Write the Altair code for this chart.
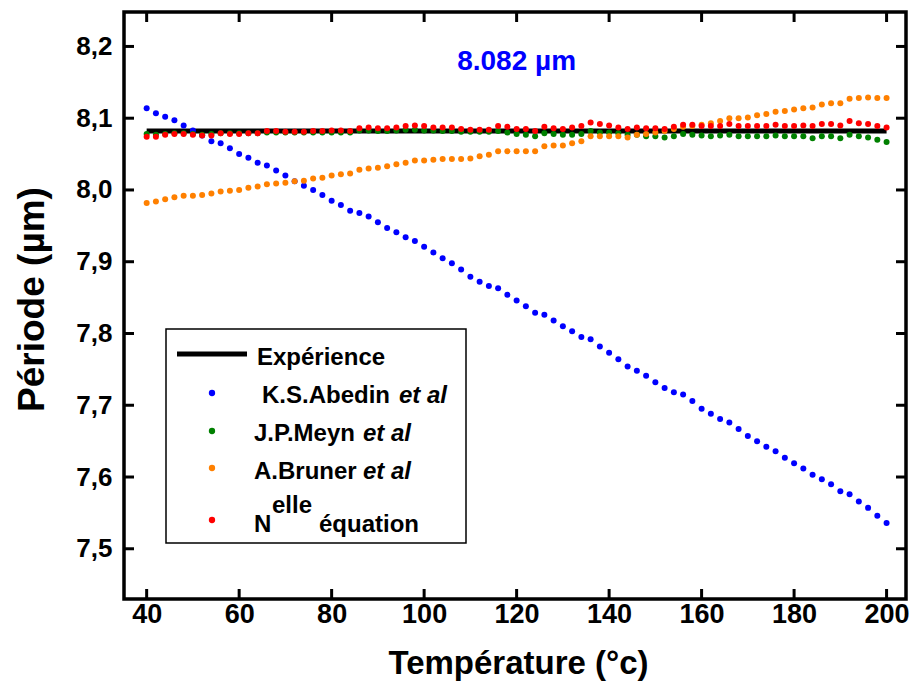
import altair as alt
import pandas as pd

# ---------------- data ----------------
TEMPS = list(range(40, 201, 2))  # 81 temperatures

ABEDIN = [8.114, 8.107, 8.102, 8.097, 8.090, 8.083, 8.076, 8.068, 8.065, 8.058,
          8.050, 8.045, 8.038, 8.034, 8.027, 8.020, 8.012, 8.006, 8.000, 7.993,
          7.985, 7.979, 7.971, 7.968, 7.963, 7.955, 7.947, 7.941, 7.934, 7.929,
          7.921, 7.913, 7.905, 7.898, 7.889, 7.879, 7.872, 7.866, 7.863, 7.854,
          7.846, 7.838, 7.829, 7.826, 7.818, 7.810, 7.803, 7.795, 7.792, 7.782,
          7.773, 7.764, 7.754, 7.748, 7.741, 7.732, 7.724, 7.718, 7.715, 7.706,
          7.695, 7.688, 7.681, 7.676, 7.667, 7.657, 7.650, 7.642, 7.636, 7.627,
          7.619, 7.612, 7.603, 7.597, 7.590, 7.580, 7.576, 7.566, 7.557, 7.546,
          7.536]

MEYN = [8.078, 8.077, 8.078, 8.079, 8.079, 8.078, 8.077, 8.078, 8.079, 8.079,
        8.079, 8.079, 8.079, 8.080, 8.080, 8.080, 8.080, 8.080, 8.080, 8.080,
        8.080, 8.080, 8.080, 8.083, 8.083, 8.082, 8.082, 8.083, 8.084, 8.084,
        8.083, 8.083, 8.082, 8.082, 8.081, 8.081, 8.081, 8.081, 8.082, 8.080,
        8.078, 8.077, 8.075, 8.079, 8.078, 8.077, 8.077, 8.078, 8.082, 8.080,
        8.080, 8.079, 8.077, 8.077, 8.075, 8.075, 8.073, 8.075, 8.078, 8.077,
        8.076, 8.075, 8.076, 8.077, 8.075, 8.075, 8.075, 8.075, 8.076, 8.075,
        8.075, 8.075, 8.072, 8.075, 8.075, 8.072, 8.077, 8.075, 8.073, 8.070,
        8.067]

BRUNER = [7.982, 7.984, 7.987, 7.990, 7.992, 7.992, 7.993, 7.995, 7.998, 7.999,
          8.000, 8.003, 8.005, 8.008, 8.009, 8.010, 8.012, 8.013, 8.016, 8.017,
          8.020, 8.022, 8.023, 8.028, 8.030, 8.031, 8.033, 8.036, 8.038, 8.041,
          8.041, 8.042, 8.043, 8.043, 8.043, 8.044, 8.047, 8.049, 8.054, 8.054,
          8.054, 8.054, 8.054, 8.061, 8.062, 8.062, 8.065, 8.068, 8.075, 8.075,
          8.075, 8.075, 8.073, 8.077, 8.078, 8.080, 8.082, 8.085, 8.088, 8.089,
          8.091, 8.093, 8.096, 8.100, 8.100, 8.101, 8.104, 8.106, 8.109, 8.110,
          8.112, 8.114, 8.115, 8.119, 8.121, 8.121, 8.127, 8.128, 8.129, 8.128,
          8.128]

NELLE = [8.074, 8.074, 8.077, 8.078, 8.078, 8.077, 8.076, 8.076, 8.079, 8.078,
         8.078, 8.079, 8.079, 8.082, 8.082, 8.081, 8.081, 8.081, 8.082, 8.082,
         8.083, 8.083, 8.082, 8.086, 8.087, 8.086, 8.086, 8.087, 8.089, 8.090,
         8.089, 8.087, 8.087, 8.087, 8.085, 8.084, 8.084, 8.084, 8.089, 8.088,
         8.085, 8.085, 8.082, 8.088, 8.086, 8.085, 8.087, 8.089, 8.094, 8.092,
         8.090, 8.087, 8.085, 8.087, 8.086, 8.086, 8.085, 8.088, 8.091, 8.091,
         8.089, 8.089, 8.089, 8.092, 8.089, 8.089, 8.089, 8.089, 8.091, 8.089,
         8.089, 8.090, 8.089, 8.092, 8.092, 8.090, 8.096, 8.093, 8.092, 8.089,
         8.087]

EXP_T = [40, 200]
EXP_V = [8.082, 8.082]

SERIES = ["K.S.Abedin", "J.P.Meyn", "A.Bruner", "Nelle équation"]
COLORS = ["#0000FF", "#008000", "#FF8000", "#FF0000"]

X_TICKS = [40, 60, 80, 100, 120, 140, 160, 180, 200]
Y_TICKS = [7.5, 7.6, 7.7, 7.8, 7.9, 8.0, 8.1, 8.2]

ANNOT_T = [120]
ANNOT_V = [8.1675]
ANNOT_TXT = ["8.082 µm"]

# ---------------- layout / style ----------------
FONT = "Liberation Sans"
W, H = 782, 587
PAD_L = 116
OX = 3  # legend offset so it stays at the reference page position
XS = alt.Scale(domain=[35.1, 204.2], nice=False, zero=False)
YS = alt.Scale(domain=[7.43, 8.248], nice=False, zero=False)

AX_X = alt.Axis(
    values=X_TICKS, title="Température (°c)", labelFontSize=27, labelPadding=2,
    titleFontSize=33, titleX=394, titleY=74, titleAlign="center",
    titleBaseline="alphabetic", grid=False, domain=False, ticks=False, tickSize=0,
    labelFont=FONT, labelFontWeight="bold", labelColor="black",
    titleFont=FONT, titleFontWeight="bold", titleColor="black")
AX_Y = alt.Axis(
    values=Y_TICKS, title="Période (µm)",
    labelExpr="replace(format(datum.value, '.1f'), '.', ',')",
    labelFontSize=26, labelPadding=12,
    titleFontSize=37, titleAngle=270, titleX=-81, titleY=287,
    titleAlign="center", titleBaseline="alphabetic",
    grid=False, domain=False, ticks=False, tickSize=0,
    labelFont=FONT, labelFontWeight="bold", labelColor="black",
    titleFont=FONT, titleFontWeight="bold", titleColor="black")


def X():
    return alt.X("T:Q", scale=XS, axis=AX_X)


def Y():
    return alt.Y("V:Q", scale=YS, axis=AX_Y)


rows = []
for name, vals in zip(SERIES, [ABEDIN, MEYN, BRUNER, NELLE]):
    for t, v in zip(TEMPS, vals):
        rows.append({"T": t, "V": v, "S": name})
df = pd.DataFrame(rows)

exp_df = pd.DataFrame({"T": EXP_T, "V": EXP_V})
xt_df = pd.DataFrame({"T": X_TICKS})
yt_df = pd.DataFrame({"V": Y_TICKS})
dummy = pd.DataFrame({"a": [0]})

exp_line = alt.Chart(exp_df).mark_line(color="black", strokeWidth=5).encode(x=X(), y=Y())

points = alt.Chart(df).mark_circle(size=36, opacity=1).encode(
    x=X(), y=Y(),
    color=alt.Color("S:N", scale=alt.Scale(domain=SERIES, range=COLORS), legend=None),
)

annot = alt.Chart(pd.DataFrame({"T": ANNOT_T, "V": ANNOT_V, "txt": ANNOT_TXT})).mark_text(
    font=FONT, fontSize=28, fontWeight="bold", color="#0000FF",
    align="center", baseline="alphabetic").encode(x=X(), y=Y(), text="txt:N")

TICK_LEN = 10
tick_style = dict(color="black", strokeWidth=3)
bottom_ticks = alt.Chart(xt_df).mark_rule(**tick_style).encode(
    x=X(), y=alt.value(H), y2=alt.value(H - TICK_LEN))
top_ticks = alt.Chart(xt_df).mark_rule(**tick_style).encode(
    x=X(), y=alt.value(0), y2=alt.value(TICK_LEN))
left_ticks = alt.Chart(yt_df).mark_rule(**tick_style).encode(
    y=Y(), x=alt.value(0), x2=alt.value(TICK_LEN))
right_ticks = alt.Chart(yt_df).mark_rule(**tick_style).encode(
    y=Y(), x=alt.value(W), x2=alt.value(W - TICK_LEN))

# ---------------- manual legend ----------------
LX0, LX1, LY0, LY1 = 39 + OX, 339 + OX, 317, 531
legend_box = alt.Chart(dummy).mark_rect(fill="white", stroke="black", strokeWidth=1.5).encode(
    x=alt.value(LX0), x2=alt.value(LX1), y=alt.value(LY0), y2=alt.value(LY1))
legend_line = alt.Chart(dummy).mark_rule(color="black", strokeWidth=5).encode(
    x=alt.value(50 + OX), x2=alt.value(120 + OX), y=alt.value(342))

DOT_X = 85 + OX
DOT_Y = [381, 419, 456, 508]
legend_dots = [
    alt.Chart(dummy).mark_circle(size=40, opacity=1, color=c).encode(
        x=alt.value(DOT_X), y=alt.value(dy))
    for c, dy in zip(COLORS, DOT_Y)
]


def txt(s, x, y, size=24, italic=False):
    return alt.Chart(dummy).mark_text(
        font=FONT, fontSize=size, fontWeight="bold",
        fontStyle="italic" if italic else "normal", color="black",
        align="left", baseline="alphabetic").encode(
        x=alt.value(x + OX), y=alt.value(y), text=alt.value(s))


legend_texts = [
    txt("Expérience", 130, 353),
    txt("K.S.Abedin", 135, 391),
    txt("et al", 272, 391, italic=True),
    txt("J.P.Meyn", 127, 429),
    txt("et al", 236, 429, italic=True),
    txt("A.Bruner", 127, 467),
    txt("et al", 236, 467, italic=True),
    txt("N", 127, 520),
    txt("elle", 145, 501),
    txt("équation", 192, 520),
]

chart = alt.layer(
    exp_line, points, annot,
    bottom_ticks, top_ticks, left_ticks, right_ticks,
    legend_box, legend_line, *legend_dots, *legend_texts,
).properties(
    width=W, height=H,
    padding={"left": PAD_L, "top": 4, "right": 3, "bottom": 82},
    autosize=alt.AutoSizeParams(type="none"),
).configure_view(
    stroke="black", strokeWidth=3.5
)

chart.save("out.html", embed_options={"renderer": "svg", "actions": False})
